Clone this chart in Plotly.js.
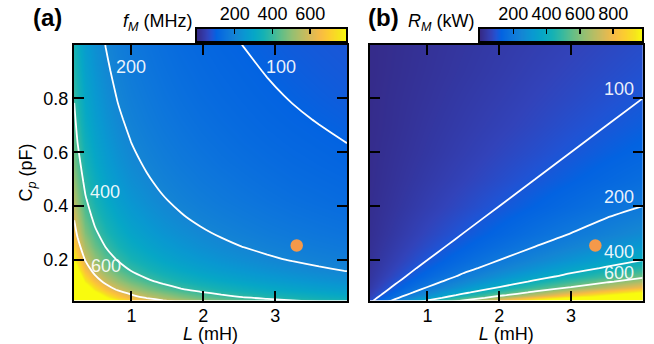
<!DOCTYPE html>
<html>
<head>
<meta charset="utf-8">
<script src="https://cdn.plot.ly/plotly-3.0.1.min.js"></script>
<style>html,body{margin:0;padding:0;background:#fff;}#chart{width:654px;height:344px;}</style>
</head>
<body>
<div id="chart"></div>
<script>
// ---------- Panel (a): f_M (MHz) over L (mH) and C_p (pF) ----------
const L_a = [0.2025, 0.25, 0.36, 0.49, 0.64, 0.81, 1, 1.21, 1.44, 1.69, 1.96, 2.25, 2.56, 2.89, 3.24, 3.61, 4];
const C_a = [0.04, 0.0625, 0.09, 0.1225, 0.16, 0.2025, 0.25, 0.3025, 0.36, 0.4225, 0.49, 0.5625, 0.64, 0.7225, 0.81, 0.9025, 1.0];
const fM = [
  [1768, 1592, 1326, 1137, 995, 884, 796, 723, 663, 612, 568, 531, 497, 468, 442, 419, 398],
  [1415, 1273, 1061, 909, 796, 707, 637, 579, 531, 490, 455, 424, 398, 374, 354, 335, 318],
  [1179, 1061, 884, 758, 663, 589, 531, 482, 442, 408, 379, 354, 332, 312, 295, 279, 265],
  [1010, 909, 758, 650, 568, 505, 455, 413, 379, 350, 325, 303, 284, 267, 253, 239, 227],
  [884, 796, 663, 568, 497, 442, 398, 362, 332, 306, 284, 265, 249, 234, 221, 209, 199],
  [786, 707, 589, 505, 442, 393, 354, 322, 295, 272, 253, 236, 221, 208, 196, 186, 177],
  [707, 637, 531, 455, 398, 354, 318, 289, 265, 245, 227, 212, 199, 187, 177, 168, 159],
  [643, 579, 482, 413, 362, 322, 289, 263, 241, 223, 207, 193, 181, 170, 161, 152, 145],
  [589, 531, 442, 379, 332, 295, 265, 241, 221, 204, 189, 177, 166, 156, 147, 140, 133],
  [544, 490, 408, 350, 306, 272, 245, 223, 204, 188, 175, 163, 153, 144, 136, 129, 122],
  [505, 455, 379, 325, 284, 253, 227, 207, 189, 175, 162, 152, 142, 134, 126, 120, 114],
  [472, 424, 354, 303, 265, 236, 212, 193, 177, 163, 152, 141, 133, 125, 118, 112, 106],
  [442, 398, 332, 284, 249, 221, 199, 181, 166, 153, 142, 133, 124, 117, 110.5, 105, 99.5],
  [416, 374, 312, 267, 234, 208, 187, 170, 156, 144, 134, 125, 117, 110, 104, 98.5, 94],
  [393, 354, 295, 253, 221, 196.5, 177, 161, 147, 136, 126, 118, 110.5, 104, 98, 93, 88],
  [372, 335, 279, 239, 209, 186, 167.5, 152, 140, 129, 120, 112, 105, 98.5, 93, 88, 84],
  [354, 318, 265, 227, 199, 177, 159, 145, 133, 122, 114, 106, 99.5, 94, 88, 84, 80]
];
const levels_a = [100, 200, 400, 600];
const labels_a = ["200", "100", "400", "600"];
const labelL_a = [1.0, 3.08, 0.63, 0.65];
const labelC_a = [0.917, 0.917, 0.454, 0.178];
const dotL_a = [3.3];
const dotC_a = [0.254];
const cbar_a = [0, 100, 200, 300, 400, 500, 600, 700, 800];
const cbarTicks_a = [200, 400, 600];
const cmax_a = 790;

// ---------- Panel (b): R_M (kW) over L (mH) and C_p (pF) ----------
const L_b = [0.2, 0.5, 1, 1.5, 2, 2.5, 3, 3.5, 4];
const C_b = [0.04, 0.05, 0.06, 0.07, 0.08, 0.1, 0.12, 0.14, 0.17, 0.2, 0.25, 0.3, 0.4, 0.5, 0.6, 0.7, 0.8, 0.9, 1.0];
const RM = [
  [100, 250, 500, 750, 1000, 1250, 1500, 1750, 2000],
  [80, 200, 400, 600, 800, 1000, 1200, 1400, 1600],
  [67, 167, 333, 500, 667, 833, 1000, 1167, 1333],
  [57, 143, 286, 429, 571, 714, 857, 1000, 1143],
  [50, 125, 250, 375, 500, 625, 750, 875, 1000],
  [40, 100, 200, 300, 400, 500, 600, 700, 800],
  [33, 83, 167, 250, 333, 417, 500, 583, 667],
  [29, 71, 143, 214, 286, 357, 429, 500, 571],
  [24, 59, 118, 176, 235, 294, 353, 412, 471],
  [20, 50, 100, 150, 200, 250, 300, 350, 400],
  [16, 40, 80, 120, 160, 200, 240, 280, 320],
  [13, 33, 67, 100, 133, 167, 200, 233, 267],
  [10, 25, 50, 75, 100, 125, 150, 175, 200],
  [8, 20, 40, 60, 80, 100, 120, 140, 160],
  [7, 17, 33, 50, 67, 83, 100, 117, 133],
  [6, 14, 29, 43, 57, 71, 86, 100, 114],
  [5, 13, 25, 38, 50, 63, 75, 88, 100],
  [4, 11, 22, 33, 44, 56, 67, 78, 89],
  [4, 10, 20, 30, 40, 50, 60, 70, 80]
];
const levels_b = [100, 200, 400, 600];
const labels_b = ["100", "200", "400", "600"];
const labelL_b = [3.67, 3.67, 3.67, 3.67];
const labelC_b = [0.834, 0.435, 0.23, 0.153];
const dotL_b = [3.34];
const dotC_b = [0.254];
const cbar_b = [0, 100, 200, 300, 400, 500, 600, 700, 800, 900, 1000];
const cbarTicks_b = [200, 400, 600, 800];
const cmax_b = 975;

// ---------- styling ----------
const parula = [
  [0.0, 'rgb(53,42,135)'], [0.0635, 'rgb(50,67,186)'], [0.0952, 'rgb(32,83,212)'],
  [0.127, 'rgb(3,99,225)'], [0.1905, 'rgb(13,117,220)'], [0.254, 'rgb(20,133,212)'],
  [0.3175, 'rgb(9,152,209)'], [0.381, 'rgb(6,167,198)'], [0.444, 'rgb(21,177,180)'],
  [0.508, 'rgb(56,185,158)'], [0.571, 'rgb(101,190,134)'], [0.635, 'rgb(146,191,115)'],
  [0.698, 'rgb(183,189,100)'], [0.762, 'rgb(217,186,86)'], [0.825, 'rgb(248,187,68)'],
  [0.889, 'rgb(252,206,46)'], [0.952, 'rgb(245,228,29)'], [1.0, 'rgb(249,251,14)']
];
const FONT = 'Liberation Sans, Arial, Helvetica, sans-serif';
const dotColor = '#f4994a';

const traces = [];
function panel(L, C, Z, cmax, levels, dotL, dotC, xa, ya) {
  traces.push({type: 'heatmap', x: L, y: C, z: Z, zmin: 0, zmax: cmax, zsmooth: 'best',
    colorscale: parula, showscale: false, hoverinfo: 'skip', xaxis: xa, yaxis: ya});
  levels.forEach(v => traces.push({type: 'contour', x: L, y: C, z: Z, autocontour: false,
    contours: {start: v, end: v, size: 1, coloring: 'none', showlabels: false},
    line: {color: 'white', width: 1.8, smoothing: 0.6}, showscale: false, hoverinfo: 'skip',
    xaxis: xa, yaxis: ya}));
  traces.push({type: 'scatter', mode: 'markers', x: dotL, y: dotC,
    marker: {size: 12.5, color: dotColor}, hoverinfo: 'skip', xaxis: xa, yaxis: ya});
}
panel(L_a, C_a, fM, cmax_a, levels_a, dotL_a, dotC_a, 'x', 'y');
panel(L_b, C_b, RM, cmax_b, levels_b, dotL_b, dotC_b, 'x2', 'y2');
// colour bars as gradient strips
traces.push({type: 'heatmap', x: cbar_a, y: [0, 1], z: [cbar_a, cbar_a], zmin: 0, zmax: cmax_a,
  zsmooth: 'best', colorscale: parula, showscale: false, hoverinfo: 'skip', xaxis: 'x3', yaxis: 'y3'});
traces.push({type: 'heatmap', x: cbar_b, y: [0, 1], z: [cbar_b, cbar_b], zmin: 0, zmax: cmax_b,
  zsmooth: 'best', colorscale: parula, showscale: false, hoverinfo: 'skip', xaxis: 'x4', yaxis: 'y4'});

const W = 654, H = 344;
const px = v => v / W, py = v => 1 - v / H;

const mainX = {range: [0.2, 4], tickvals: [1, 2, 3], ticks: 'inside', ticklen: 10, tickwidth: 2,
  tickcolor: 'black', showline: true, linewidth: 2, linecolor: 'black', mirror: 'ticks',
  showgrid: false, zeroline: false, automargin: false, tickfont: {size: 18}, ticklabelstandoff: -2,
  title: {text: '<i>L</i> (mH)', standoff: 4, font: {size: 18}}};
const mainY = {range: [0.05, 1.0], tickvals: [0.2, 0.4, 0.6, 0.8], ticks: 'inside', ticklen: 10,
  tickwidth: 2, tickcolor: 'black', showline: true, linewidth: 2, linecolor: 'black', mirror: 'ticks',
  showgrid: false, zeroline: false, automargin: false, tickfont: {size: 18},
  domain: [py(300.5), py(44.5)]};
const cbX = {side: 'top', ticks: 'inside', ticklen: 5, tickwidth: 1.5, tickcolor: 'black',
  showline: true, linewidth: 2, linecolor: 'black', mirror: true, showgrid: false, zeroline: false,
  automargin: false, tickfont: {size: 18}};
const cbY = {range: [0, 1], showticklabels: false, ticks: '', showline: true, linewidth: 2,
  linecolor: 'black', mirror: true, showgrid: false, zeroline: false, automargin: false,
  domain: [py(41), py(29)]};

const annotations = [];
labels_a.forEach((t, i) => annotations.push({xref: 'x', yref: 'y', x: labelL_a[i], y: labelC_a[i],
  text: t, showarrow: false, font: {size: 18, color: 'rgba(255,255,255,0.92)'}}));
labels_b.forEach((t, i) => annotations.push({xref: 'x2', yref: 'y2', x: labelL_b[i], y: labelC_b[i],
  text: t, showarrow: false, font: {size: 18, color: 'rgba(255,255,255,0.92)'}}));
annotations.push({xref: 'paper', yref: 'paper', x: px(31), y: py(18), yanchor: 'middle',
  text: '<b>(a)</b>', showarrow: false, font: {size: 24}});
annotations.push({xref: 'paper', yref: 'paper', x: px(383), y: py(18), yanchor: 'middle',
  text: '<b>(b)</b>', showarrow: false, font: {size: 24}});
annotations.push({xref: 'paper', yref: 'paper', x: px(195), y: py(22), xanchor: 'right',
  yanchor: 'middle', text: '<i>f</i><sub><i>M</i></sub> (MHz)', showarrow: false, font: {size: 18}});
annotations.push({xref: 'paper', yref: 'paper', x: px(476), y: py(22), xanchor: 'right',
  yanchor: 'middle', text: '<i>R</i><sub><i>M</i></sub> (kW)', showarrow: false, font: {size: 18}});

const layout = {
  width: W, height: H, margin: {l: 0, r: 0, t: 0, b: 0},
  paper_bgcolor: 'white', plot_bgcolor: 'white', showlegend: false,
  font: {family: FONT, size: 18, color: 'black'},
  xaxis: Object.assign({}, mainX, {domain: [px(74), px(347)], anchor: 'y'}),
  yaxis: Object.assign({}, mainY, {anchor: 'x',
    title: {text: 'C<sub><i>p</i></sub> (pF)', standoff: 6, font: {size: 18}}}),
  xaxis2: Object.assign({}, mainX, {domain: [px(370), px(642.7)], anchor: 'y2'}),
  yaxis2: Object.assign({}, mainY, {anchor: 'x2', showticklabels: false}),
  xaxis3: Object.assign({}, cbX, {domain: [px(197), px(346)], anchor: 'y3', range: [0, cmax_a],
    tickvals: cbarTicks_a}),
  yaxis3: Object.assign({}, cbY, {anchor: 'x3'}),
  xaxis4: Object.assign({}, cbX, {domain: [px(480), px(642.3)], anchor: 'y4', range: [0, cmax_b],
    tickvals: cbarTicks_b}),
  yaxis4: Object.assign({}, cbY, {anchor: 'x4'}),
  annotations: annotations
};

Plotly.newPlot('chart', traces, layout, {staticPlot: true, displayModeBar: false});
</script>
</body>
</html>
